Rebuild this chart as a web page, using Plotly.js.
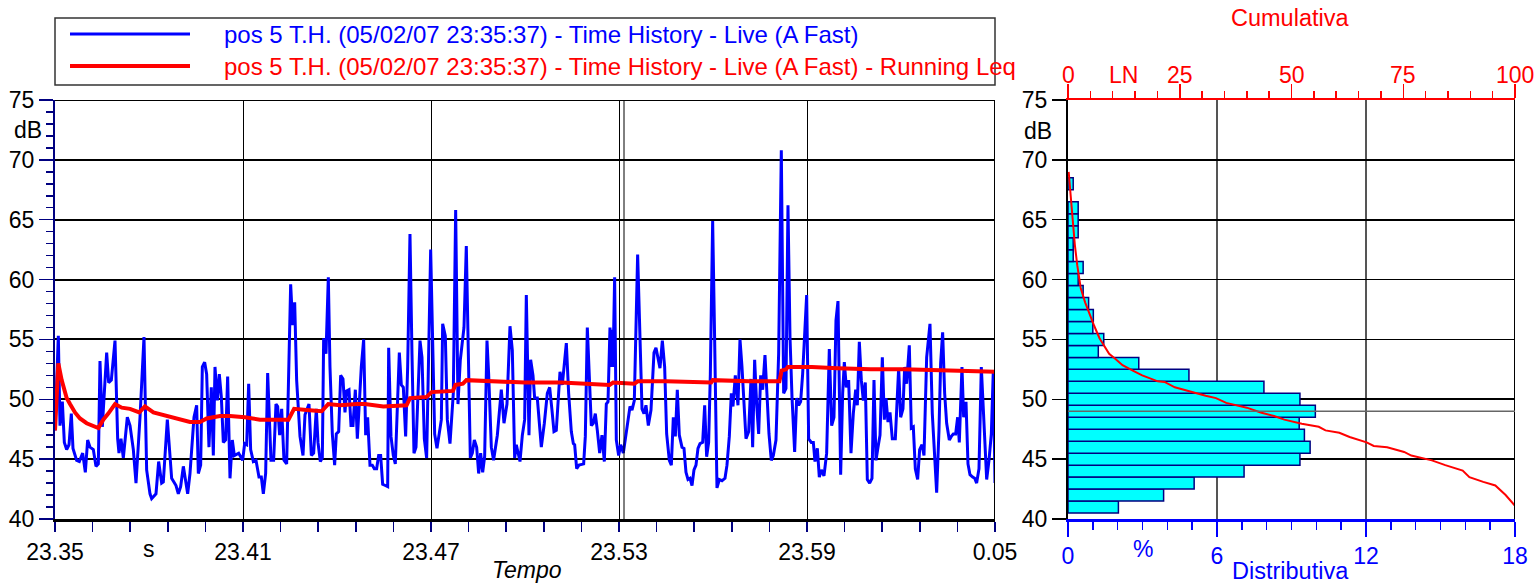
<!DOCTYPE html>
<html>
<head>
<meta charset="utf-8">
<script src="https://cdn.plot.ly/plotly-3.0.1.min.js"></script>
<style>html,body{margin:0;padding:0;background:#fff}#chart{width:1537px;height:584px}</style>
</head>
<body>
<div id="chart"></div>
<script>
// ---- Data ----
const xTickVals = [0, 60, 120, 180, 240, 300];
const xTickText = ['23.35', '23.41', '23.47', '23.53', '23.59', '0.05'];
const cumTickVals = [0, 25, 50, 75, 100];
const cumTickText = ['0', '25', '50', '75', '100'];

const liveT = [0,1.06,1.6,2.34,2.98,3.72,4.47,5.21,5.74,6.91,7.77,8.83,9.68,10.42,11.17,12.23,13.08,13.83,14.36,15.1,16.49,17.13,17.98,19.15,20.0,20.42,21.06,21.81,23.08,23.94,25.0,25.85,27.13,28.4,29.25,30.32,30.85,32.23,33.08,34.04,34.57,35.85,37.23,38.62,39.36,40.1,40.96,42.34,43.08,44.36,45.21,45.74,46.49,47.02,47.76,48.4,49.14,49.89,50.53,51.06,51.8,52.44,53.08,53.72,54.46,55.1,55.85,56.59,57.23,58.62,59.89,
60.53,61.17,61.81,62.44,63.3,64.15,65.1,65.85,66.49,67.23,67.87,68.93,69.78,70.53,71.06,71.7,72.34,73.08,73.93,75.21,75.85,76.49,77.12,78.19,79.15,79.78,81.06,81.81,82.55,83.4,83.93,84.68,85.32,85.74,86.49,87.23,87.76,88.51,89.25,89.78,90.53,91.17,91.91,92.55,93.08,93.83,94.47,95.1,95.85,96.49,97.76,98.51,99.15,99.78,100.53,101.27,101.91,102.65,103.29,103.93,104.57,105.42,106.17,106.49,107.23,107.97,108.61,109.89,110.53,111.17,111.91,112.55,113.29,113.93,114.57,115.21,116.49,117.12,117.87,118.61,119.89,
121.17,121.91,123.3,123.72,124.57,125.21,126.06,127.12,127.87,128.61,129.36,130.53,131.27,131.91,132.55,133.19,133.83,134.57,135.21,135.85,136.49,137.12,137.87,138.4,139.25,139.97,141.17,142.44,143.29,144.25,145.21,145.95,146.7,147.23,148.4,149.15,149.89,150.42,151.27,151.8,152.55,153.08,153.93,155.21,156.17,157.12,157.87,158.61,159.25,159.99,161.17,161.91,163.19,163.93,164.78,165.42,165.85,166.49,167.23,168.72,169.25,169.89,171.17,171.8,172.44,173.08,173.83,174.57,175.32,175.95,176.49,177.12,177.55,177.76,178.08,178.61,179.14,179.89,180.53,
181.38,182.23,183.51,184.15,184.89,185.95,186.7,187.34,187.98,188.61,189.36,190.21,191.17,191.8,193.08,193.83,194.57,195.21,196.06,196.7,197.34,197.98,198.61,199.25,200.1,200.74,201.38,202.02,202.66,203.3,203.93,204.57,205.21,205.85,206.7,207.34,207.97,208.61,209.15,209.89,210.53,211.27,212.02,212.87,213.83,214.46,215.21,215.85,216.38,217.12,217.97,218.61,219.25,219.99,220.53,221.38,222.12,222.65,223.29,223.93,224.57,225.21,225.85,226.59,227.23,227.87,228.61,229.25,230.1,230.95,231.8,232.55,233.29,233.93,234.57,235.21,236.06,236.7,237.34,237.97,238.61,239.25,239.89,
240.53,241.38,242.02,242.55,243.3,243.93,244.57,245.42,246.27,247.12,247.87,248.61,249.25,249.89,250.74,251.38,251.91,252.55,253.29,254.04,254.78,255.53,256.06,256.7,257.34,257.97,258.61,259.25,259.99,260.74,261.38,262.02,262.66,263.3,264.04,264.68,265.21,265.85,266.49,267.23,268.19,269.25,269.89,270.63,271.17,271.8,272.65,273.29,273.93,274.57,275.31,275.95,276.7,277.34,278.19,279.25,279.99,280.74,281.38,282.12,282.65,283.29,283.93,284.57,285.42,286.06,286.7,287.44,288.08,288.61,289.46,289.99,290.74,291.38,292.02,292.87,293.51,294.14,294.89,295.63,296.49,297.34,298.08,298.83,299.46,300];

const liveDb = [47.4,55.3,47.8,49.8,46.4,45.8,46.2,48.8,45.9,44.9,44.8,45.5,43.9,46.6,46.0,45.8,44.4,44.6,53.2,47.7,53.9,51.4,51.6,54.9,46.7,45.5,46.7,45.1,48.5,47.8,45.8,43.0,48.5,55.2,44.1,42.1,41.7,42.1,44.8,43.0,43.1,48.3,43.4,42.8,42.1,42.7,44.4,42.1,43.8,48.5,49.5,43.8,44.5,52.7,53.1,52.1,46.0,51.0,45.3,52.7,49.9,52.1,50.2,46.4,46.6,51.9,43.4,46.6,45.3,45.5,44.9,
46.3,46.2,51.3,45.8,44.8,44.9,43.5,43.5,42.1,43.8,52.2,44.9,44.9,49.6,49.4,47.0,49.2,44.9,44.6,59.6,56.2,58.1,51.6,46.9,45.3,48.7,49.6,45.3,45.5,49.2,46.4,44.8,45.1,55.1,53.8,60.2,52.7,47.1,44.5,47.1,47.3,52.0,51.7,48.9,50.7,50.8,47.8,47.8,50.8,46.7,52.7,55.0,47.0,48.5,44.5,44.5,44.2,44.2,45.3,45.3,42.9,42.8,42.7,54.3,46.9,45.3,44.6,53.9,51.2,51.0,46.9,52.7,63.8,53.8,45.5,46.0,54.9,53.5,46.7,45.1,62.5,
47.1,45.9,48.3,56.3,55.3,48.3,46.3,50.5,65.8,49.6,53.3,56.0,62.8,52.1,45.1,45.5,46.6,46.0,43.8,45.5,43.9,45.2,54.9,52.1,46.0,44.9,47.0,50.8,48.0,49.6,56.1,54.1,45.1,46.2,44.8,47.0,48.3,58.7,47.0,53.3,52.0,50.1,50.1,46.0,48.0,50.5,51.0,49.1,47.3,47.4,52.3,51.2,54.7,50.5,47.3,46.3,46.2,44.2,44.5,44.6,46.9,56.0,47.8,48.0,48.8,47.4,45.5,47.0,44.8,49.6,49.8,56.0,52.7,55.8,52.7,60.2,46.6,45.3,46.2,
45.5,47.1,49.4,49.1,49.9,62.1,54.9,49.2,48.8,49.5,47.8,49.1,53.9,54.3,52.6,54.9,52.7,47.1,44.9,44.5,48.5,46.9,50.8,47.0,46.0,45.9,43.9,43.3,43.4,42.8,44.1,44.5,45.9,46.3,46.4,49.5,45.2,46.4,52.1,64.9,54.9,42.6,43.3,43.2,43.4,44.5,46.9,50.5,49.4,52.0,49.5,55.0,52.7,48.5,46.7,47.3,51.7,46.0,53.3,49.6,47.1,52.0,50.8,53.7,50.1,47.1,44.9,45.3,46.6,53.8,70.8,50.5,50.9,66.2,55.2,50.2,45.6,50.1,49.5,49.8,52.1,54.9,58.7,
46.7,46.4,46.4,44.8,45.9,43.5,44.1,43.6,45.5,54.2,47.8,48.5,56.6,58.2,43.7,50.5,53.1,51.0,51.6,45.5,48.8,50.8,49.5,54.8,51.6,49.9,51.4,43.3,43.0,43.4,51.6,44.9,46.0,47.0,53.5,48.3,50.1,48.1,48.9,46.7,46.7,52.6,48.5,49.2,52.7,51.3,54.5,47.6,47.7,44.2,43.3,45.8,46.2,45.3,53.5,56.3,48.8,45.2,42.2,47.4,53.0,55.6,50.5,48.0,46.6,46.9,47.1,47.1,48.5,46.4,52.7,48.5,49.8,44.6,43.7,43.5,43.4,43.0,44.2,52.7,47.8,43.3,44.9,47.1,52.4,43.0];

const leqT = [0,1.06,2.13,3.72,4.79,6.38,7.98,10.1,13.83,15.4,17.0,19.15,21.3,23.94,26.9,28.7,31.4,34.6,37.8,43.08,46.28,48.4,52.66,55.85,60.6,65.4,74.5,76.3,80.3,85.1,87.2,91.0,96.3,98.9,104.8,112.2,113.3,118.6,120.2,127.0,127.8,130.2,131.3,140.3,149.9,161.6,172.2,177.0,178.1,184.9,186.0,195.0,209.4,209.9,221.6,231.2,231.9,233.3,233.9,241.6,249.7,260.3,270.9,281.6,289.0,300];
const leqDb = [47.4,53.0,51.6,50.1,49.6,48.9,48.4,48.0,47.6,48.3,48.8,49.6,49.3,49.2,48.9,49.4,48.9,48.7,48.5,48.1,48.1,48.4,48.6,48.6,48.5,48.3,48.3,49.2,49.1,49.0,49.6,49.5,49.6,49.6,49.4,49.5,50.1,50.2,50.6,50.7,51.2,51.3,51.6,51.5,51.4,51.4,51.3,51.2,51.4,51.3,51.5,51.5,51.4,51.6,51.5,51.5,52.4,52.5,52.7,52.7,52.6,52.5,52.5,52.4,52.4,52.3];

const histLevels = [41,42,43,44,45,46,47,48,49,50,51,52,53,54,55,56,57,58,59,60,61,62,63,64,65,66,68];
const histPct = [2.03,3.85,5.08,7.09,9.34,9.75,9.52,9.31,9.96,9.34,7.89,4.87,2.85,1.22,1.44,1.0,1.02,0.83,0.61,0.41,0.61,0.21,0.21,0.41,0.41,0.41,0.21];

const cumPct = [0.15,0.5,1.07,1.53,2.07,2.84,3.83,4.9,5.9,7.05,8.2,9.2,10.5,12.2,14.5,16.6,20.1,21.6,23.9,27.7,30.8,33.1,35.4,40.0,43.1,46.1,48.4,52.3,56.1,57.6,60.7,63.0,66.8,68.4,71.4,75.2,76.8,81.4,84.4,88.3,89.8,92.9,95.6,97.9,100];
const cumDb = [69.0,67.3,64.8,62.9,61.2,59.3,58.1,57.0,56.1,55.1,54.4,53.8,53.4,52.85,52.4,52.0,51.5,51.45,51.0,50.6,50.3,50.1,49.7,49.3,48.9,48.6,48.3,47.95,47.7,47.4,47.2,46.85,46.4,46.1,46.0,45.6,45.3,44.9,44.5,44.05,43.5,43.1,42.8,42.0,41.1];

const legendNames = [
  'pos 5 T.H. (05/02/07 23:35:37) - Time History - Live (A Fast)',
  'pos 5 T.H. (05/02/07 23:35:37) - Time History - Live (A Fast) - Running Leq'
];

// ---- Layout helpers (pixel -> paper) ----
const W = 1537, H = 584;
const px = v => v / W;
const py = v => 1 - v / H;
const FONT = 'Liberation Sans, Arial, sans-serif';
const FS = 23;
const NAVY = '#000080', BLUE = '#0000ff', RED = '#ff0000';

const traces = [
  {x: liveT, y: liveDb, type: 'scatter', mode: 'lines', xaxis: 'x', yaxis: 'y',
   line: {color: BLUE, width: 3}, hoverinfo: 'none'},
  {x: leqT, y: leqDb, type: 'scatter', mode: 'lines', xaxis: 'x', yaxis: 'y',
   line: {color: RED, width: 4}, hoverinfo: 'none'},
  {x: histPct, y: histLevels, type: 'bar', orientation: 'h', width: 1, xaxis: 'x2', yaxis: 'y2',
   marker: {color: '#00ffff', line: {color: NAVY, width: 1.5}}, hoverinfo: 'none'},
  {x: cumPct, y: cumDb, type: 'scatter', mode: 'lines', xaxis: 'x3', yaxis: 'y2',
   line: {color: RED, width: 2}, hoverinfo: 'none'}
];

const yDom = [py(519), py(100)];

const annotations = [
  {xref: 'paper', yref: 'paper', x: px(222), y: py(34), xanchor: 'left', yanchor: 'middle', showarrow: false,
   text: legendNames[0], font: {family: FONT, size: 24, color: BLUE}},
  {xref: 'paper', yref: 'paper', x: px(222), y: py(66), xanchor: 'left', yanchor: 'middle', showarrow: false,
   text: legendNames[1], font: {family: FONT, size: 24, color: RED}},
  {xref: 'paper', yref: 'paper', x: px(28), y: py(130), xanchor: 'center', yanchor: 'middle', showarrow: false,
   text: 'dB', font: {family: FONT, size: FS, color: '#000'}},
  {xref: 'x', yref: 'paper', x: 30, y: py(549), xanchor: 'center', yanchor: 'middle', showarrow: false,
   text: 's', font: {family: FONT, size: FS, color: '#000'}},
  {xref: 'paper', yref: 'paper', x: px(527), y: py(570), xanchor: 'center', yanchor: 'middle', showarrow: false,
   text: '<i>Tempo</i>', font: {family: FONT, size: FS, color: '#000'}},
  {xref: 'paper', yref: 'paper', x: px(1038), y: py(131), xanchor: 'center', yanchor: 'middle', showarrow: false,
   text: 'dB', font: {family: FONT, size: FS, color: '#000'}},
  {xref: 'x3', yref: 'paper', x: 12.5, y: py(75), xanchor: 'center', yanchor: 'middle', showarrow: false,
   text: 'LN', font: {family: FONT, size: FS, color: RED}},
  {xref: 'x2', yref: 'paper', x: 3, y: py(549), xanchor: 'center', yanchor: 'middle', showarrow: false,
   text: '%', font: {family: FONT, size: FS, color: BLUE}},
  {xref: 'paper', yref: 'paper', x: px(1290), y: py(18), xanchor: 'center', yanchor: 'middle', showarrow: false,
   text: 'Cumulativa', font: {family: FONT, size: 23.5, color: RED}},
  {xref: 'paper', yref: 'paper', x: px(1290), y: py(571), xanchor: 'center', yanchor: 'middle', showarrow: false,
   text: 'Distributiva', font: {family: FONT, size: 23.5, color: BLUE}}
];
// top (cumulative) axis labels placed just above the red ticks
cumTickVals.forEach((v, i) => annotations.push({
  xref: 'x3', yref: 'paper', x: v, y: py(75), xanchor: 'center', yanchor: 'middle', showarrow: false,
  text: cumTickText[i], font: {family: FONT, size: FS, color: RED}
}));

const layout = {
  width: W, height: H,
  margin: {l: 0, r: 0, t: 0, b: 0},
  paper_bgcolor: '#fff', plot_bgcolor: '#fff',
  showlegend: false,
  font: {family: FONT, size: FS, color: '#000'},
  xaxis: {
    domain: [px(55), px(995)], anchor: 'y', range: [0, 300],
    tickmode: 'array', tickvals: xTickVals, ticktext: xTickText,
    ticks: 'outside', ticklen: 10, tickwidth: 1.5, tickcolor: NAVY,
    minor: {tickmode: 'linear', tick0: 0, dtick: 12, ticks: 'outside', ticklen: 10, tickwidth: 1.5, tickcolor: NAVY, showgrid: false},
    showgrid: true, gridcolor: '#000', gridwidth: 1,
    showline: true, linecolor: '#000', linewidth: 3,
    zeroline: false, tickfont: {family: FONT, size: FS, color: '#000'}
  },
  yaxis: {
    domain: yDom, anchor: 'x', range: [40, 75],
    tickmode: 'linear', tick0: 40, dtick: 5,
    ticks: 'outside', ticklen: 14, tickwidth: 1.5, tickcolor: NAVY,
    minor: {dtick: 1, ticks: 'outside', ticklen: 7, tickwidth: 1.5, tickcolor: NAVY, showgrid: false},
    showgrid: true, gridcolor: '#000', gridwidth: 2,
    showline: true, linecolor: NAVY, linewidth: 2,
    zeroline: false, tickfont: {family: FONT, size: FS, color: '#000'}
  },
  xaxis2: {
    domain: [px(1068), px(1515)], anchor: 'y2', range: [0, 18],
    tickmode: 'array', tickvals: [0, 6, 12, 18],
    ticks: 'outside', ticklen: 15, tickwidth: 1.5, tickcolor: BLUE,
    minor: {tickmode: 'linear', tick0: 0, dtick: 1, ticks: 'outside', ticklen: 8, tickwidth: 1.5, tickcolor: BLUE, showgrid: false},
    showgrid: true, gridcolor: '#555', gridwidth: 1.5,
    showline: true, linecolor: BLUE, linewidth: 2.5,
    zeroline: false, tickfont: {family: FONT, size: FS, color: BLUE}
  },
  xaxis3: {
    overlaying: 'x2', side: 'top', anchor: 'y2', range: [0, 100],
    tickmode: 'array', tickvals: cumTickVals, showticklabels: false,
    ticks: 'outside', ticklen: 14, tickwidth: 1.5, tickcolor: RED,
    minor: {tickmode: 'linear', tick0: 0, dtick: 5, ticks: 'outside', ticklen: 7, tickwidth: 1.5, tickcolor: RED, showgrid: false},
    showgrid: false, showline: true, linecolor: RED, linewidth: 2,
    zeroline: false
  },
  yaxis2: {
    domain: yDom, anchor: 'x2', range: [40, 75],
    tickmode: 'linear', tick0: 40, dtick: 5,
    ticks: 'outside', ticklen: 14, tickwidth: 1.5, tickcolor: '#000',
    showgrid: true, gridcolor: '#000', gridwidth: 1.6,
    showline: true, linecolor: '#000', linewidth: 2,
    zeroline: false, tickfont: {family: FONT, size: FS, color: '#000'}
  },
  shapes: [
    // legend box
    {type: 'rect', xref: 'paper', yref: 'paper', x0: px(55), x1: px(995), y0: py(85), y1: py(18),
     line: {color: '#333', width: 1.5}, fillcolor: 'rgba(0,0,0,0)'},
    {type: 'line', xref: 'paper', yref: 'paper', x0: px(70), x1: px(190), y0: py(34), y1: py(34),
     line: {color: BLUE, width: 3}},
    {type: 'line', xref: 'paper', yref: 'paper', x0: px(70), x1: px(190), y0: py(66), y1: py(66),
     line: {color: RED, width: 4}},
    // left frame: top and right
    {type: 'line', xref: 'x', yref: 'y', x0: 0, x1: 300, y0: 75, y1: 75, line: {color: '#000', width: 2}},
    {type: 'line', xref: 'x', yref: 'y', x0: 300, x1: 300, y0: 40, y1: 75, line: {color: '#000', width: 2}},
    // cursor line near 23.53
    {type: 'line', xref: 'x', yref: 'y', x0: 181.6, x1: 181.6, y0: 40, y1: 75, line: {color: '#000', width: 1}},
    // right frame: right border
    {type: 'line', xref: 'x2', yref: 'y2', x0: 18, x1: 18, y0: 40, y1: 75, line: {color: '#000', width: 2}},
    // marker line at 49 dB over histogram
    {type: 'line', xref: 'x2', yref: 'y2', x0: 0, x1: 18, y0: 49, y1: 49, layer: 'above', line: {color: '#666', width: 1.5}}
  ],
  annotations: annotations
};

Plotly.newPlot('chart', traces, layout, {staticPlot: true, displayModeBar: false});
</script>
</body>
</html>
